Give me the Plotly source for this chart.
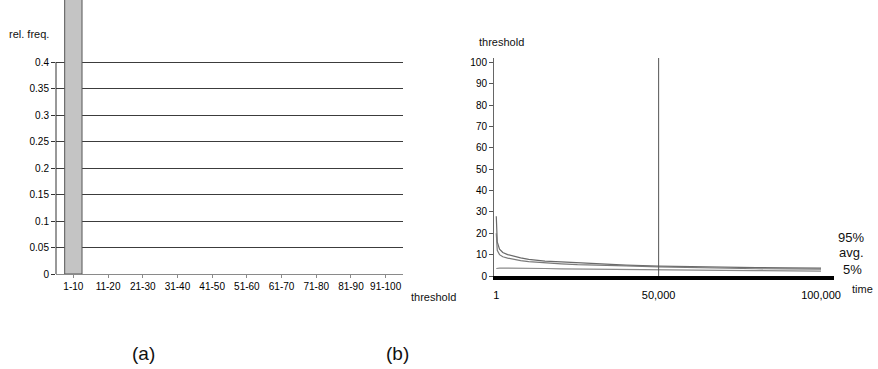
import plotly.graph_objects as go

# ---------- data ----------
# (a) histogram of thresholds
categories = ["1-10", "11-20", "21-30", "31-40", "41-50", "51-60", "61-70", "71-80", "81-90", "91-100"]
rel_freq = [1.0, 0, 0, 0, 0, 0, 0, 0, 0, 0]
freq_ticks = [0, 0.05, 0.1, 0.15, 0.2, 0.25, 0.3, 0.35, 0.4]
freq_tick_text = ["0", "0.05", "0.1", "0.15", "0.2", "0.25", "0.3", "0.35", "0.4"]

# (b) threshold over time
time_pts = [1, 300, 1000, 2000, 3500, 5000, 7500, 10000, 15000, 20000, 25000, 30000,
            40000, 50000, 60000, 70000, 80000, 90000, 100000]
p95 = [28, 16, 12.5, 11.0, 10.0, 9.3, 8.5, 7.8, 7.0, 6.6, 6.2, 5.8,
       5.1, 4.6, 4.3, 4.1, 3.9, 3.8, 3.7]
avg = [20, 12, 10.0, 9.0, 8.4, 7.9, 7.2, 6.7, 6.1, 5.7, 5.3, 5.0,
       4.7, 4.3, 3.9, 3.6, 3.4, 3.3, 3.2]
p5 = [3.5, 3.6, 3.7, 3.7, 3.7, 3.7, 3.7, 3.6, 3.5, 3.3, 3.2, 3.1,
      3.0, 2.9, 2.8, 2.6, 2.5, 2.4, 2.3]
threshold_ticks = [0, 10, 20, 30, 40, 50, 60, 70, 80, 90, 100]
time_ticks = [1, 50000, 100000]
time_tick_text = ["1", "50,000", "100,000"]
marker_time = 50000

FONT = "Liberation Sans, Arial, sans-serif"
W, H = 878, 369

fig = go.Figure()

# (a) bars (outline only where a bar has height)
fig.add_trace(go.Bar(
    x=categories, y=rel_freq, width=0.5,
    marker=dict(color="#c4c4c4",
                line=dict(color="#555555", width=[1 if v > 0 else 0 for v in rel_freq])),
    xaxis="x", yaxis="y", showlegend=False,
))

# (b) lines
for vals, col in [(p95, "#6a6a6a"), (avg, "#7a7a7a"), (p5, "#8a8a8a")]:
    fig.add_trace(go.Scatter(
        x=time_pts, y=vals, mode="lines", line=dict(color=col, width=1.2),
        xaxis="x2", yaxis="y2", showlegend=False,
    ))

# vertical marker line at 50,000
fig.add_trace(go.Scatter(
    x=[marker_time, marker_time], y=[0, 102], mode="lines",
    line=dict(color="#555555", width=1), xaxis="x2", yaxis="y2", showlegend=False,
))

fig.update_layout(
    width=W, height=H,
    margin=dict(l=0, r=0, t=0, b=0, autoexpand=False),
    paper_bgcolor="white", plot_bgcolor="white",
    font=dict(family=FONT, size=10, color="#000000"),
    xaxis=dict(
        domain=[56 / W, 403 / W], anchor="y", automargin=False,
        type="category", range=[-0.5, 9.5],
        showline=True, linecolor="#8a8a8a", linewidth=1,
        ticks="outside", ticklen=3, tickcolor="#8a8a8a",
        showgrid=False, zeroline=False,
        tickfont=dict(size=10, color="#000000"),
    ),
    yaxis=dict(
        domain=[95 / H, 1.0], anchor="x", automargin=False,
        range=[0, 0.517],
        tickvals=freq_ticks, ticktext=freq_tick_text,
        ticks="outside", ticklen=4, tickcolor="#333333",
        showgrid=True, gridcolor="#3c3c3c", gridwidth=1,
        showline=False, zeroline=False,
        tickfont=dict(size=10, color="#000000"),
    ),
    xaxis2=dict(
        domain=[494 / W, 834 / W], anchor="y2", automargin=False,
        range=[-700, 104000],
        tickvals=time_ticks, ticktext=time_tick_text,
        showline=True, linecolor="#000000", linewidth=3.5,
        ticks="", showgrid=False, zeroline=False,
        ticklabelstandoff=6,
        tickfont=dict(size=11, color="#000000"),
    ),
    yaxis2=dict(
        domain=[93 / H, 311 / H], anchor="x2", automargin=False,
        range=[0, 102],
        tickvals=threshold_ticks,
        ticks="outside", ticklen=4, tickcolor="#555555",
        showline=True, linecolor="#666666", linewidth=1,
        showgrid=False, zeroline=False,
        tickfont=dict(size=10, color="#000000"),
    ),
    shapes=[
        dict(type="line", xref="x domain", yref="y", x0=0, x1=0,
             y0=freq_ticks[0], y1=freq_ticks[-1],
             line=dict(color="#333333", width=1)),
    ],
)

annotations = [
    dict(text="rel. freq.", x=29 / W, y=1 - 34 / H, font=dict(size=11)),
    dict(text="threshold", x=433 / W, y=1 - 297 / H, font=dict(size=11)),
    dict(text="threshold", x=501 / W, y=1 - 42 / H, font=dict(size=11)),
    dict(text="time", x=862 / W, y=1 - 289 / H, font=dict(size=11)),
    dict(text="95%", x=851 / W, y=1 - 238 / H, font=dict(size=13)),
    dict(text="avg.", x=851 / W, y=1 - 253 / H, font=dict(size=13)),
    dict(text="5%", x=852 / W, y=1 - 269 / H, font=dict(size=13)),
    dict(text="(a)", x=143 / W, y=1 - 353 / H, font=dict(size=19)),
    dict(text="(b)", x=397 / W, y=1 - 353 / H, font=dict(size=19)),
]
for a in annotations:
    a.update(xref="paper", yref="paper", showarrow=False,
             xanchor="center", yanchor="middle")
    a["font"]["family"] = FONT
    a["font"]["color"] = "#111111"
fig.update_layout(annotations=annotations)

fig.write_html(
    "out.html",
    config={"displayModeBar": False},
    post_script="document.body.style.margin='0';document.body.style.overflow='hidden';",
)
